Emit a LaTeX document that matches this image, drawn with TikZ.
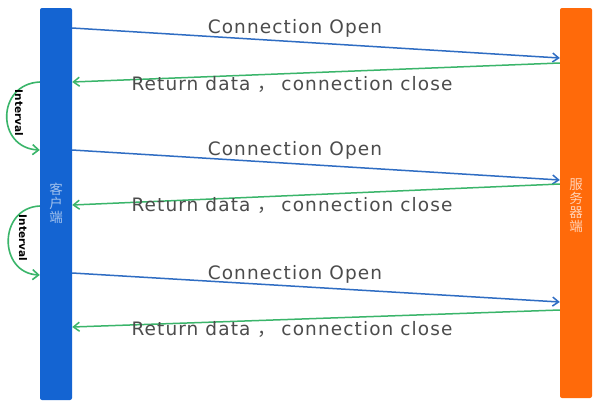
\documentclass[tikz,border=0pt]{standalone}
\usepackage{fontspec}
\setmainfont{DejaVu Sans}
\newfontfamily\msgfont[LetterSpace=6]{DejaVu Sans}
\newfontfamily\cjk{Noto Sans CJK SC}
\usetikzlibrary{arrows.meta}
\definecolor{clientblue}{HTML}{1464D2}
\definecolor{serverorange}{HTML}{FF6A0A}
\definecolor{openblue}{HTML}{2F6DC3}
\definecolor{closegreen}{HTML}{3AB56A}
\definecolor{labelgray}{HTML}{4C4C4C}
\tikzset{
  bar/.style={rounded corners=2pt, minimum width=32pt, inner sep=0pt, text centered},
  openline/.style={draw=openblue, line width=1.5pt, -{Straight Barb[length=6pt,width=9pt]}},
  closeline/.style={draw=closegreen, line width=1.5pt, -{Straight Barb[length=6pt,width=9pt]}},
  msg/.style={text=labelgray, font=\msgfont\fontsize{18.5}{20}\selectfont, inner sep=0pt, anchor=base},
  interval/.style={draw=closegreen, line width=1.6pt, -{Straight Barb[length=6pt,width=10pt]}},
  intlabel/.style={rotate=-90, font=\bfseries\fontsize{10.5}{12}\selectfont, inner sep=0pt, text=black},
  barlbl/.style={font=\cjk\fontsize{13.5}{14}\selectfont, align=center, inner sep=0pt},
}
\begin{document}
\begin{tikzpicture}[x=1pt,y=-1pt]
\useasboundingbox[fill=white] (0,0) rectangle (609,410);
\node[bar, fill=clientblue, minimum height=392pt] (client) at (56,204) {};
\node[bar, fill=serverorange, minimum height=390pt] (server) at (576,203) {};
\node[barlbl, text=white!60!clientblue] (clientlbl) at (56,203) {客\\户\\端};
\node[barlbl, text=white!70!serverorange] (serverlbl) at (576,206) {服\\务\\器\\端};
% rounds
\foreach \i/\a/\b/\c/\d/\ly/\gy in {1/28/58/63/82/33/90, 2/150/180/184/205/155/211, 3/273/302/310/327/279/335}{
  \draw[openline] (client.north east |- 0,\a) coordinate (co\i) -- (server.north west |- 0,\b) coordinate (so\i);
  \node[msg] (open\i) at (295,\ly) {Connection Open};
  \draw[closeline] (server.north west |- 0,\c) coordinate (sc\i) -- (client.north east |- 0,\d) coordinate (cc\i);
  \node[msg] (close\i) at (292,\gy) {Return data {\cjk，}\hspace{0.3em}connection close};
}
\coordinate (ia1) at (client.north west |- 0,82);
\coordinate (ib1) at (client.north west |- 0,150);
\coordinate (ia2) at (client.north west |- 0,206);
\coordinate (ib2) at (client.north west |- 0,275);
\draw[interval] (ia1) .. controls (-4,84) and (-4,148) .. (ib1);
\draw[interval] (ia2) .. controls (-2,208) and (-2,273) .. (ib2);
\node[intlabel] (int1) at (19,113) {Interval};
\node[intlabel] (int2) at (23,238) {Interval};
\end{tikzpicture}
\end{document}
